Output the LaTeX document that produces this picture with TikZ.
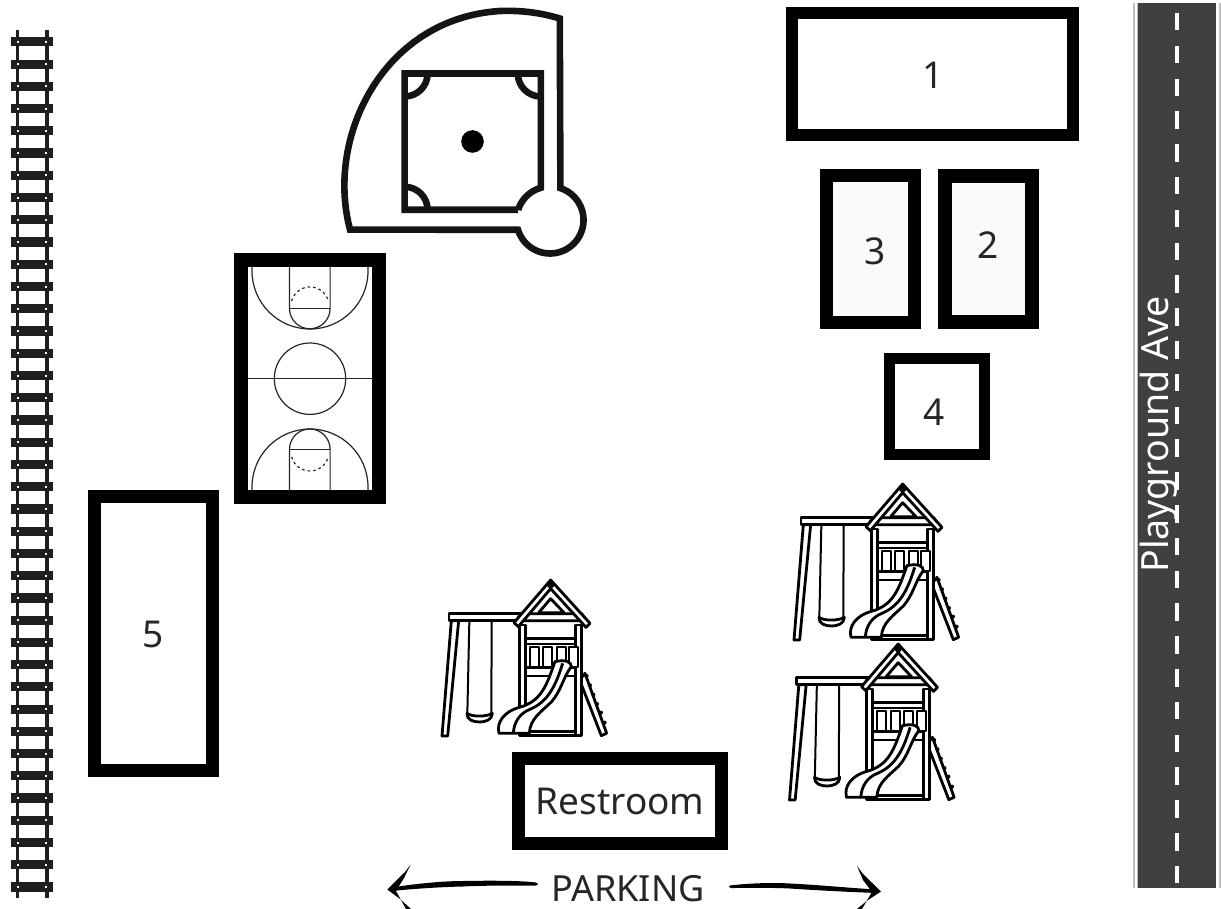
\documentclass[tikz,border=0pt]{standalone}
\usepackage{fontspec}
\setmainfont{Noto Sans}
\newcommand{\playset}[2]{%
\begin{scope}[shift={(#1,#2)},x=.3333pt,y=-.3333pt]
  % swing rope and seat
  \draw[thinplay] (118,155) -- (112,432);
  \draw[thinplay] (185,155) -- (184,432);
  \draw[play] (111,430) .. controls (125,441) and (170,441) .. (187,430) .. controls (187,450) and (165,456) .. (149,456) .. controls (130,456) and (110,450) .. (111,430) -- cycle;
  % frame leg and top beam
  \draw[play] (64,152) -- (86,152) -- (53,498) -- (36,498) -- cycle;
  \draw[play] (57,131) -- (280,131) -- (280,152) -- (57,152) -- cycle;
  % ladder
  \draw[play] (465,310) -- (530,490) -- (514,497) -- (449,330) -- cycle;
  \foreach \a/\b in {470/318,480/346,490/374,501/402,513/428,524/458}{\fill (\a,\b) circle (6);}
  % tower
  \draw[play] (268,165) rectangle (286,497);
  \draw[play] (437,165) rectangle (455,497);
  \draw[play] (286,484) rectangle (437,497);
  \draw[play] (286,206) rectangle (437,222);
  \draw[play] (286,292) rectangle (437,318);
  \foreach \a in {300,340,380,418}{\draw[thinplay,fill=white] (\a,230) rectangle ++(27,60);}
  % roof
  \draw[play] (270,131) -- (455,131) -- (470,152) -- (262,152) -- cycle;
  \draw[play] (326,128) -- (362,86) -- (402,128) -- cycle;
  \draw[play] (362,30) -- (480,160) -- (468,172) -- (362,56) -- (265,170) -- (252,158) -- cycle;
  \fill (362,30) -- (375,45) -- (362,60) -- (349,45) -- cycle;
  % slide
  \draw[play] (375,275) .. controls (350,345) and (335,395) .. (265,413) .. controls (225,425) and (198,455) .. (207,490) -- (298,490) .. controls (300,445) and (335,425) .. (365,395) .. controls (395,360) and (400,320) .. (424,290) .. controls (425,275) and (405,268) .. (375,275) -- cycle;
  \draw[play,fill=none] (398,280) .. controls (378,345) and (355,395) .. (300,418) .. controls (270,430) and (252,455) .. (250,490);
\end{scope}}
\begin{document}
\begin{tikzpicture}[x=1pt,y=-1pt,
  bldg/.style={draw=black,fill=white,inner sep=0pt,miter limit=10},
  lbl/.style={font=\fontsize{37}{40}\selectfont,text=black!85,inner sep=0pt},
  court/.style={draw=black!85,line width=1.2pt},
  fieldline/.style={draw=black!92,line width=6.6pt,line join=miter},
  play/.style={draw=black,line width=2.8pt,line join=round,fill=white},
  thinplay/.style={draw=black,line width=2pt,line join=round}]
\useasboundingbox (0,0) rectangle (1221,909);
\fill[white] (0,0) rectangle (1221,909);
% railway
\foreach \i in {0,...,38}{
  \fill[black!88] (11,{37.3+22.24*\i}) rectangle (53.3,{46.5+22.24*\i});
}
\fill[black!88] (15.7,30) rectangle (19.3,898);
\fill[black!88] (45,30) rectangle (48.7,898);
\foreach \i in {0,...,38}{
  \fill[white] (17.2,{41+22.24*\i}) rectangle (19,{43+22.24*\i});
  \fill[white] (45.3,{41+22.24*\i}) rectangle (47.1,{43+22.24*\i});
}
% road
\fill[black!25] (1132.7,3) rectangle (1135,888);
\fill[black!25] (1137,3) rectangle (1138,888);
\fill[black!75!white] (1138,3) rectangle (1216,888);
\fill[black!25] (1218.5,3) rectangle (1221,888);
\foreach \i in {0,...,26}{
  \fill[white] (1175,{13+32.8*\i}) rectangle (1178.6,{30.5+32.8*\i});
}
\node[rotate=90,text=white,inner sep=0pt,anchor=base,font=\fontsize{37.5}{40}\selectfont] (road) at (1168,434.5) {Playground Ave};
% buildings
\node[bldg,line width=12pt,minimum width=281pt,minimum height=121.5pt] (b1) at (932.5,74) {};
\node[lbl] (t1) at (933,75) {1};
\node[bldg,line width=13pt,minimum width=88pt,minimum height=146.5pt,fill=black!2] (b3) at (870.5,249.2) {};
\node[lbl] (t3) at (875,251) {3};
\node[bldg,line width=14pt,minimum width=87pt,minimum height=145.5pt,fill=black!2] (b2) at (988,249.2) {};
\node[lbl] (t2) at (988,245.5) {2};
\node[bldg,line width=11pt,minimum width=95pt,minimum height=96pt] (b4) at (937,406.5) {};
\node[lbl] (t4) at (934,412) {4};
\node[bldg,line width=13pt,minimum width=118pt,minimum height=274pt] (b5) at (153.5,633.5) {};
\node[lbl] (t5) at (153,634) {5};
\node[bldg,line width=13pt,minimum width=203pt,minimum height=85.5pt] (rest) at (619.8,800.8) {};
\node[lbl] (trest) at (620,801) {Restroom};
% basketball
\node[bldg,line width=14pt,minimum width=138pt,minimum height=237pt] (court) at (310,378.5) {};
\begin{scope}
\clip (247.5,267) rectangle (372.5,490);
\draw[court] (247,378.7) -- (373,378.7);
\draw[court] (310,378.7) circle (35.7);
\draw[court] (252,262) -- (252,271) arc[start angle=180,end angle=0,radius=58] -- (368,262);
\draw[court] (252,496) -- (252,487) arc[start angle=180,end angle=360,radius=58] -- (368,496);
\draw[court] (289.5,262) -- (289.5,308.5) arc[start angle=180,end angle=0,radius=20.3] -- (330.1,262);
\draw[court] (289.5,308.5) -- (330.1,308.5);
\draw[court] (289.5,496) -- (289.5,449.3) arc[start angle=180,end angle=360,radius=20.3] -- (330.1,496);
\draw[court] (289.5,449.3) -- (330.1,449.3);
\draw[court,dash pattern=on 2.6pt off 3pt] (291.65,301) arc[start angle=195,end angle=345,radius=19];
\draw[court,dash pattern=on 2.6pt off 3pt] (291.65,456.9) arc[start angle=165,end angle=15,radius=19];
\end{scope}
% ball field
\coordinate (hp) at (550,220);
\draw[fieldline] (518,229.8) arc[start angle=163,end angle=-72,radius=33.5] -- (559.8,18.5) .. controls (545,14) and (525,10) .. (500,11) .. controls (385,18) and (325,135) .. (350,229.6) -- cycle;
\draw[fieldline] (518.1,209.8) -- (404.6,209.8) -- (404.6,73.5) -- (540.8,73.5) -- (540.8,187.8) arc[start angle=254,end angle=197.7,radius=33.5];
\draw[fieldline] (427.6,73.5) arc[start angle=0,end angle=90,radius=23];
\draw[fieldline] (517.8,73.5) arc[start angle=180,end angle=90,radius=23];
\draw[fieldline] (427.6,209.8) arc[start angle=0,end angle=-90,radius=23];
\fill[black] (472.5,141.5) circle (11.3);
% play sets
\playset{430}{570}
\playset{782}{474}
\playset{777.5}{634}
% parking
\node[font=\fontsize{36}{38}\selectfont,text=black!85,inner sep=0pt] (park) at (628,889) {PARKING};
\fill[black] (392,887.5) .. controls (410,884.5) and (440,881) .. (463,881) .. controls (490,880.5) and (520,880.5) .. (536,882.5) .. controls (539,884) and (538,885) .. (536,885.5) .. controls (510,885.5) and (480,885.5) .. (463,886.5) .. controls (440,887) and (410,889) .. (392,891) -- cycle;
\fill[black] (410.7,864.5) -- (405,872) -- (387.3,889.5) -- (400,899) -- (411,909) -- (406,909) -- (396,891) -- (404,878) -- cycle;
\fill[black] (730,885.5) .. controls (750,883) and (775,882.5) .. (790,883.5) .. controls (820,885) and (850,888) .. (876,889.5) -- (876,893) .. controls (850,892) and (820,890.5) .. (790,888.5) .. controls (770,887.5) and (750,888) .. (731,888) .. controls (728.5,887.5) and (728.5,886) .. (730,885.5) -- cycle;
\fill[black] (857,866) -- (863,874) -- (881,891.5) -- (868,900) -- (857,909) -- (862,909) -- (872,892) -- (863,880) -- cycle;
\end{tikzpicture}
\end{document}
